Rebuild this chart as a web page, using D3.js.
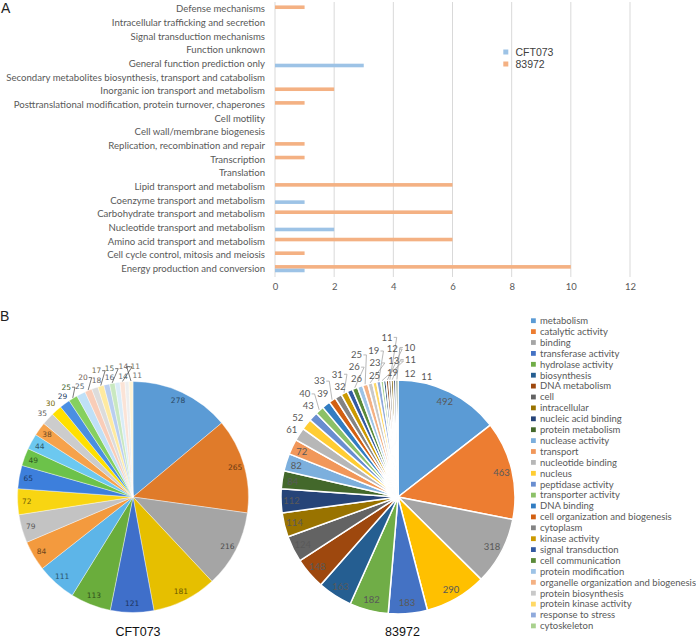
<!DOCTYPE html>
<html><head><meta charset="utf-8">
<script src="https://cdn.jsdelivr.net/npm/d3@7/dist/d3.min.js"></script>
<style>body{margin:0;background:#fff;} svg{display:block;}</style>
</head><body>
<svg id="c" width="696" height="638"></svg>
<script>
// ---------- DATA ----------
const cogCategories = [
  "Defense mechanisms",
  "Intracellular trafficking and secretion",
  "Signal transduction mechanisms",
  "Function unknown",
  "General function prediction only",
  "Secondary metabolites biosynthesis, transport and catabolism",
  "Inorganic ion transport and metabolism",
  "Posttranslational modification, protein turnover, chaperones",
  "Cell motility",
  "Cell wall/membrane biogenesis",
  "Replication, recombination and repair",
  "Transcription",
  "Translation",
  "Lipid transport and metabolism",
  "Coenzyme transport and metabolism",
  "Carbohydrate transport and metabolism",
  "Nucleotide transport and metabolism",
  "Amino acid transport and metabolism",
  "Cell cycle control, mitosis and meiosis",
  "Energy production and conversion"
];
const cogCFT073 = [0,0,0,0,3,0,0,0,0,0,0,0,0,0,1,0,2,0,0,1];
const cog83972  = [1,0,0,0,0,0,2,1,0,0,1,1,0,6,0,6,0,6,1,10];
const barTicks = [0,2,4,6,8,10,12];
const barSeries = ["CFT073","83972"];
const barColors = ["#9dc3e6","#f4b183"];

const goTerms = ["metabolism","catalytic activity","binding","transferase activity","hydrolase activity",
  "biosynthesis","DNA metabolism","cell","intracellular","nucleic acid binding","protein metabolism",
  "nuclease activity","transport","nucleotide binding","nucleus","peptidase activity","transporter activity",
  "DNA binding","cell organization and biogenesis","cytoplasm","kinase activity","signal transduction",
  "cell communication","protein modification","organelle organization and biogenesis","protein biosynthesis",
  "protein kinase activity","response to stress","cytoskeleton"];
const goLegendColors = ["#5b9bd5","#ed7d31","#a5a5a5","#4472c4","#70ad47","#255e91","#9e480e","#636363",
  "#997300","#264478","#43682b","#7cafdd","#f1975a","#b7b7b7","#ffcd33","#698ed0","#8cc168","#327dc2",
  "#d26012","#848484","#cc9a00","#335aa1","#5a8a39","#9dc3e6","#f4b183","#c9c9c9","#ffd966","#8faadc","#a9d18e"];

const cftGoCounts = [278,265,216,181,121,113,111,84,79,72,65,49,44,38,35,30,29,25,25,20,18,17,16,15,14,14,11,11];
const cftColors = ["#5b9bd5","#e07b2a","#a5a5a5","#e6bf00","#3f6fca","#6aad3c","#5db5e8","#f39a3e","#c3c3c3",
  "#f8d512","#3d7fdc","#6cc24a","#6cc8f0","#f6a24b","#cccccc","#ffe000","#4a8fe2","#85d05f","#bfe0f7",
  "#f9cdb8","#dcdcdc","#ffeaa0","#b9cef0","#c9e8c0","#d9ecf8","#fbe3d6","#eeeeee","#fff4d6"];

const s83972GoCounts = [492,463,318,290,183,182,163,148,124,114,112,84,82,72,61,52,43,40,39,33,32,31,26,26,
  25,25,23,19,19,13,12,12,11,11,11,10];
const s83972Colors = ["#5b9bd5","#ed7d31","#a5a5a5","#ffc000","#4472c4","#70ad47","#255e91","#9e480e","#636363",
  "#997300","#264478","#43682b","#7cafdd","#f1975a","#b7b7b7","#ffcd33","#698ed0","#8cc168","#327dc2",
  "#d26012","#848484","#cc9a00","#335aa1","#5a8a39","#9dc3e6","#f4b183","#c9c9c9","#ffd966","#8faadc",
  "#a9d18e","#1f4e79","#843c0c","#525252","#7f6000","#203864","#375623"];
const pieTitles = ["CFT073","83972"];

// ---------- DRAW ----------
const svg = d3.select("#c");
const gray = "#595959";
const calib = "Lato, 'Open Sans', sans-serif";
const arial = "'Liberation Sans', Arial, sans-serif";

svg.append("text").attr("x",1).attr("y",13).text("A")
  .attr("font-family",arial).attr("font-size",14).attr("fill","#222");
svg.append("text").attr("x",0).attr("y",321).text("B")
  .attr("font-family",arial).attr("font-size",14).attr("fill","#222");

// Panel A
const x = d3.scaleLinear().domain([0,12]).range([275,630]);
const y = d3.scaleBand().domain(cogCategories).range([2.2,275.5]);
const gA = svg.append("g");
gA.selectAll("line.grid").data(barTicks).join("line").attr("class","grid")
  .attr("x1",d=>x(d)).attr("x2",d=>x(d)).attr("y1",2).attr("y2",277)
  .attr("stroke","#d9d9d9").attr("stroke-width",1);
const xAxis = d3.axisBottom(x).tickValues(barTicks).tickSize(0).tickPadding(0);
const ax = gA.append("g").attr("transform","translate(0,283)").call(xAxis);
ax.select(".domain").remove();
ax.selectAll("text").attr("font-family",calib).attr("font-size",9.5).attr("fill",gray).attr("dy","0.71em");

gA.selectAll("text.cat").data(cogCategories).join("text").attr("class","cat")
  .attr("x",265).attr("y",d=>y(d)+y.bandwidth()/2).attr("dy","0.35em")
  .attr("text-anchor","end").attr("font-family",calib).attr("font-size",9.6).attr("fill",gray).text(d=>d);

const bh = 3.6;
const barData = [];
cogCategories.forEach((c,i)=>{
  barData.push({c, v:cog83972[i], s:1});
  barData.push({c, v:cogCFT073[i], s:0});
});
gA.selectAll("rect.bar").data(barData.filter(d=>d.v>0)).join("rect").attr("class","bar")
  .attr("x",x(0)).attr("width",d=>x(d.v)-x(0))
  .attr("y",d=>y(d.c)+y.bandwidth()/2 + (d.s===1 ? -bh : 0)).attr("height",bh)
  .attr("fill",d=>barColors[d.s]);

const legA = gA.append("g");
barSeries.forEach((s,i)=>{
  legA.append("rect").attr("x",503.3).attr("y",49.5+i*12).attr("width",5).attr("height",5).attr("fill",barColors[i]);
  legA.append("text").attr("x",515.5).attr("y",52+i*12).attr("dy","0.35em").text(s)
    .attr("font-family",arial).attr("font-size",10.5).attr("fill","#404040");
});

// Panel B pies
function drawPie(vals, cols, cx, cy, r, o) {
  const g = svg.append("g").attr("transform",`translate(${cx},${cy})`);
  const arcs = d3.pie().sort(null).value(d=>d)(vals);
  const arc = d3.arc().innerRadius(0).outerRadius(r);
  g.selectAll("path").data(arcs).join("path").attr("d",arc)
    .attr("fill",(d,i)=>cols[i]).attr("stroke",o.stroke).attr("stroke-width",o.sw);
  const placed = [];
  const fs = o.fs;
  const deg = Math.PI/180;
  const leads = g.append("g");
  arcs.forEach((d,i)=>{
    const m = (d.startAngle+d.endAngle)/2;
    const txt = String(d.value);
    const w = txt.length*fs*0.56, h = fs*0.8;
    const lc = o.labelColor ? o.labelColor(cols[i]) : o.textColor;
    if (d.value >= o.insideMin) {
      g.append("text").attr("x",Math.sin(m)*r*o.inR).attr("y",-Math.cos(m)*r*o.inR)
        .attr("dy","0.35em").attr("text-anchor","middle").attr("font-family",o.font)
        .attr("font-size",fs).attr("fill",lc).text(txt);
      return;
    }
    let best = null;
    for (let rad = r + o.base; rad < r + 140; rad += 1) {
      for (let da = -o.angL; da <= o.angR; da += 1) {
        const cost = (rad - r - o.base) + o.angW*Math.abs(da);
        if (best && cost >= best.cost) continue;
        const a = m + da*deg;
        const lx = Math.sin(a)*rad, ly = -Math.cos(a)*rad;
        const bx = [lx-w/2-o.padX, ly-h/2-o.padY, lx+w/2+o.padX, ly+h/2+o.padY];
        const nx = Math.max(lx-w/2, Math.min(0, lx+w/2)), ny = Math.max(ly-h/2, Math.min(0, ly+h/2));
        if (Math.hypot(nx,ny) < r + 2) continue;
        const hit = placed.some(p=> !(bx[2]<p[0]||bx[0]>p[2]||bx[3]<p[1]||bx[1]>p[3]));
        if (hit) continue;
        best = {cost, lx, ly, rad};
      }
    }
    const {lx, ly, rad} = best;
    placed.push([lx-w/2, ly-h/2, lx+w/2, ly+h/2]);
    g.append("text").attr("x",lx).attr("y",ly).attr("dy","0.35em").attr("text-anchor","middle")
      .attr("font-family",o.font).attr("font-size",fs).attr("fill",lc).text(txt);
    if (rad - r > o.leadMin) {
      const side = lx < 0 ? 1 : -1;
      const ex = lx + side*(w/2+1.5), ey = ly;
      const px = Math.sin(m)*(r+0.5), py = -Math.cos(m)*(r+0.5);
      leads.append("polyline").attr("points",[[ex,ey],[ex+side*3,ey],[px,py]].map(p=>p.join(",")).join(" "))
        .attr("fill","none").attr("stroke",o.leadColor).attr("stroke-width",o.leadW);
    }
  });
  return g;
}

drawPie(cftGoCounts, cftColors, 133, 497, 115.5, {
  stroke:"#ffffff", sw:0.4, fs:7.5, insideMin:38, inR:0.92, base:6, padX:3.5, padY:3, angL:3, angR:12, angW:2.5,
  font:"Verdana, 'DejaVu Sans', sans-serif", labelColor:c=>d3.color(c).darker(2.2).formatHex(),
  leadMin:12, leadColor:"#404040", leadW:0.7
});
drawPie(s83972GoCounts, s83972Colors, 398, 497, 117, {
  stroke:"#ffffff", sw:1.5, fs:9.5, insideMin:70, inR:0.91, base:7, padX:6, padY:4, angL:3, angR:30, angW:2.5,
  font:calib, textColor:gray, leadMin:12, leadColor:"#a6a6a6", leadW:0.8
});

svg.selectAll("text.ptitle").data(pieTitles).join("text").attr("class","ptitle")
  .attr("x",(d,i)=>[138,402.5][i]).attr("y",636).attr("text-anchor","middle")
  .attr("font-family",arial).attr("font-size",12.5).attr("fill","#111").text(d=>d);

// legend B
const legB = svg.append("g");
goTerms.forEach((t,i)=>{
  legB.append("rect").attr("x",531).attr("y",318.3+i*10.9).attr("width",4.8).attr("height",4.8).attr("fill",goLegendColors[i]);
  legB.append("text").attr("x",540).attr("y",320.7+i*10.9).attr("dy","0.35em").text(t)
    .attr("font-family",calib).attr("font-size",9.5).attr("fill",gray);
});
</script>
</body></html>
